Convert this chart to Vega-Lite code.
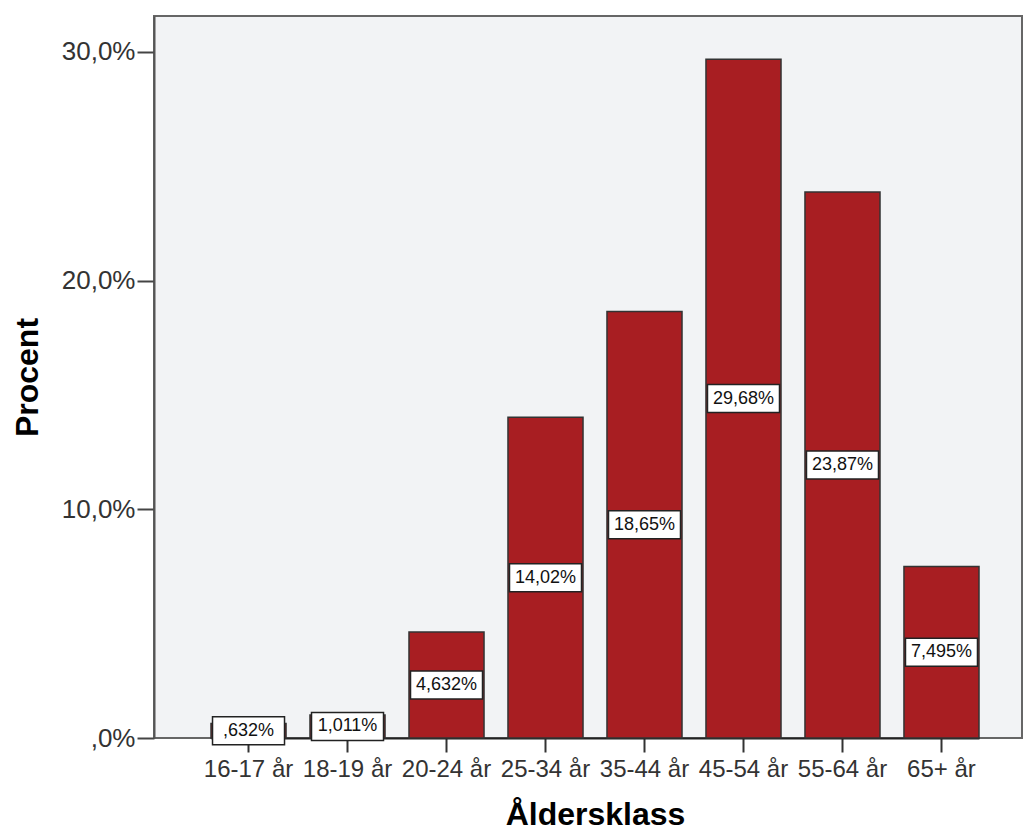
{
  "$schema": "https://vega.github.io/schema/vega-lite/v6.json",
  "autosize": "none",
  "padding": {"left": 154, "top": 16, "right": 3, "bottom": 94},
  "width": 868,
  "height": 722,
  "background": "white",
  "config": {
    "view": {"fill": "#F2F3F5", "stroke": "#666666", "strokeWidth": 2},
    "font": "Liberation Sans"
  },
  "data": {
    "values": [
      {"klass": "16-17 år", "procent": 0.632, "label": ",632%"},
      {"klass": "18-19 år", "procent": 1.011, "label": "1,011%"},
      {"klass": "20-24 år", "procent": 4.632, "label": "4,632%"},
      {"klass": "25-34 år", "procent": 14.02, "label": "14,02%"},
      {"klass": "35-44 år", "procent": 18.65, "label": "18,65%"},
      {"klass": "45-54 år", "procent": 29.68, "label": "29,68%"},
      {"klass": "55-64 år", "procent": 23.87, "label": "23,87%"},
      {"klass": "65+ år", "procent": 7.495, "label": "7,495%"}
    ]
  },
  "encoding": {
    "x": {
      "field": "klass",
      "type": "nominal",
      "sort": null,
      "scale": {"range": [57, 825], "paddingInner": 0.242, "paddingOuter": 0},
      "axis": {
        "title": "Åldersklass",
        "titleFont": "Liberation Sans",
        "titleFontSize": 32,
        "titleFontWeight": "bold",
        "titleColor": "#000000",
        "titlePadding": 18,
        "labelAngle": 0,
        "labelFontSize": 24,
        "labelColor": "#333333",
        "labelPadding": 5,
        "tickSize": 14,
        "tickColor": "#333333",
        "tickWidth": 2,
        "domainColor": "#222222",
        "domainWidth": 2,
        "grid": false
      }
    }
  },
  "layer": [
    {
      "mark": {"type": "bar", "color": "#A81E22", "stroke": "#333333", "strokeWidth": 1.5},
      "encoding": {
        "y": {
          "field": "procent",
          "type": "quantitative",
          "scale": {"domain": [0, 31.57], "nice": false, "zero": true},
          "axis": {
            "title": "Procent",
            "titleFont": "Liberation Sans",
            "titleFontSize": 32,
            "titleFontWeight": "bold",
            "titleColor": "#000000",
            "titlePadding": 17,
            "values": [0, 10, 20, 30],
            "labelExpr": "datum.value == 0 ? ',0%' : replace(format(datum.value, '.1f'), '.', ',') + '%'",
            "labelFontSize": 26,
            "labelColor": "#333333",
            "labelPadding": 2,
            "tickSize": 17,
            "tickColor": "#444444",
            "tickWidth": 2,
            "domainColor": "#555555",
            "domainWidth": 2,
            "grid": false
          }
        }
      }
    },
    {
      "encoding": {
        "y": {
          "field": "procent",
          "type": "quantitative",
          "scale": {"domain": [0, 63.14], "nice": false, "zero": true},
          "axis": null
        }
      },
      "layer": [
        {
          "mark": {
            "type": "point",
            "shape": "M-1,-0.389L1,-0.389L1,0.389L-1,0.389Z",
            "size": 5184,
            "filled": true,
            "fill": "white",
            "stroke": "#222222",
            "strokeWidth": 1.5,
            "opacity": 1
          }
        },
        {
          "mark": {
            "type": "text",
            "font": "Liberation Sans",
            "fontSize": 18,
            "color": "#111111",
            "baseline": "middle",
            "align": "center"
          },
          "encoding": {"text": {"field": "label", "type": "nominal"}}
        }
      ]
    }
  ],
  "resolve": {"scale": {"y": "independent"}, "axis": {"y": "independent"}}
}
